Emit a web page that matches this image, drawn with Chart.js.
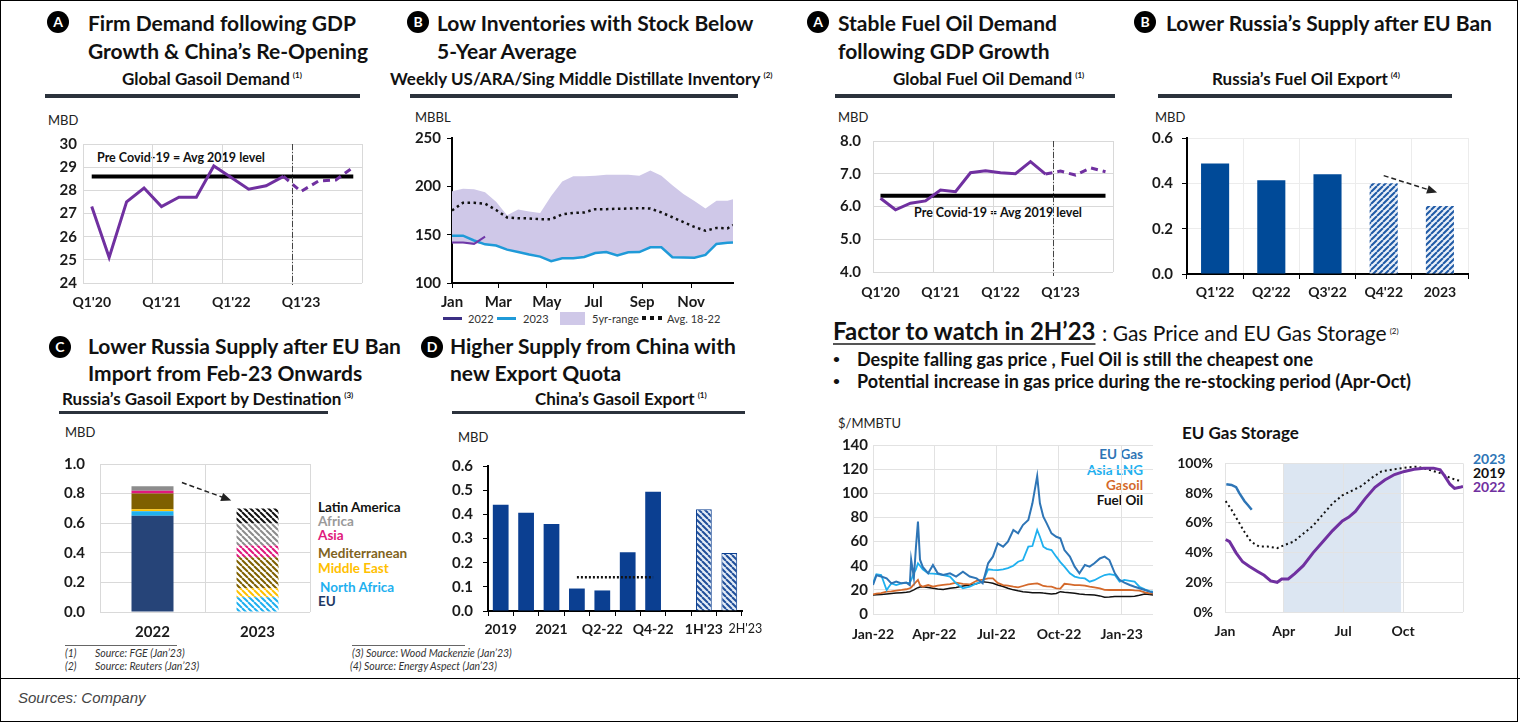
<!DOCTYPE html>
<html>
<head>
<meta charset="utf-8">
<script src="https://cdn.jsdelivr.net/npm/chart.js@4.4.1/dist/chart.umd.min.js"></script>
<style>
body { margin: 0; background: #fff; }
#page { position: relative; width: 1520px; height: 722px; overflow: hidden; font-family: Lato, 'Noto Sans', sans-serif; color: #111; }
.t { position: absolute; white-space: nowrap; line-height: 1; transform: translateY(-50%); }
.c { transform: translate(-50%, -50%); }
.r { transform: translate(-100%, -50%); }
.h1 { font-size: 21px; font-weight: 700; }
.h2 { font-size: 17px; font-weight: 700; }
.sup { font-size: 8px; position: relative; top: -7px; margin-left: 3px; }
.unit { font-size: 13px; color: #222; }
.badge { position: absolute; width: 22px; height: 22px; margin: -11px 0 0 -11px; border-radius: 50%; background: #000; color: #fff; font-weight: 700; font-size: 14px; line-height: 22px; text-align: center; }
.rule { position: absolute; height: 4px; background: #2b323c; }
.note { font-size: 10.5px; font-style: italic; color: #333; }
.lg { font-size: 11px; color: #333; }
.key { font-size: 13.5px; font-weight: 700; }
.pc { font-size: 12.5px; font-weight: 700; }
.bul { font-size: 18px; font-weight: 700; }
.sw { position: absolute; }
canvas { position: absolute; }
</style>
</head>
<body>
<div id="page">
  <div style="position:absolute;left:0;top:0;width:1516px;height:720px;border:1px solid #000;"></div>
  <div style="position:absolute;left:0;top:678px;width:1520px;height:1px;background:#000;"></div>

  <!-- top row headers -->
  <div class="badge" style="left:58px;top:22px">A</div>
  <div class="t h1" style="left:88px;top:22px">Firm Demand following GDP</div>
  <div class="t h1" style="left:88px;top:50px">Growth &amp; China’s Re-Opening</div>
  <div class="t h2" style="left:122px;top:78px">Global Gasoil Demand<span class="sup">(1)</span></div>
  <div class="rule" style="left:45px;top:94px;width:315px"></div>
  <div class="t unit" style="left:48px;top:120px">MBD</div>
  <div class="t pc" style="left:97px;top:158px">Pre Covid-19 = Avg 2019 level</div>

  <div class="badge" style="left:418px;top:22px">B</div>
  <div class="t h1" style="left:437px;top:22px">Low Inventories with Stock Below</div>
  <div class="t h1" style="left:437px;top:50px">5-Year Average</div>
  <div class="t h2" style="left:390px;top:78px">Weekly US/ARA/Sing Middle Distillate Inventory<span class="sup">(2)</span></div>
  <div class="rule" style="left:410px;top:94px;width:328px"></div>
  <div class="t unit" style="left:415px;top:117px">MBBL</div>
  <div class="sw" style="left:443px;top:317px;width:19px;height:3px;background:#3b2f84"></div>
  <div class="t lg" style="left:468px;top:318px">2022</div>
  <div class="sw" style="left:497px;top:317px;width:19px;height:3px;background:#1f9ad8"></div>
  <div class="t lg" style="left:523px;top:318px">2023</div>
  <div class="sw" style="left:560px;top:312px;width:25px;height:13px;background:#cfc8e8"></div>
  <div class="t lg" style="left:592px;top:318px">5yr-range</div>
  <div class="sw" style="left:642px;top:316px;width:20px;height:4px;background:repeating-linear-gradient(90deg,#111 0 4px,transparent 4px 8px)"></div>
  <div class="t lg" style="left:667px;top:318px">Avg. 18-22</div>

  <div class="badge" style="left:818px;top:22px">A</div>
  <div class="t h1" style="left:838px;top:22px">Stable Fuel Oil Demand</div>
  <div class="t h1" style="left:838px;top:50px">following GDP Growth</div>
  <div class="t h2" style="left:893px;top:78px">Global Fuel Oil Demand<span class="sup">(1)</span></div>
  <div class="rule" style="left:835px;top:94px;width:280px"></div>
  <div class="t unit" style="left:838px;top:117px">MBD</div>
  <div class="t pc c" style="left:998px;top:213px">Pre Covid-19 = Avg 2019 level</div>

  <div class="badge" style="left:1145px;top:22px">B</div>
  <div class="t h1" style="left:1166px;top:22px">Lower Russia’s Supply after EU Ban</div>
  <div class="t h2" style="left:1212px;top:78px">Russia’s Fuel Oil Export<span class="sup">(4)</span></div>
  <div class="rule" style="left:1158px;top:94px;width:294px"></div>
  <div class="t unit" style="left:1155px;top:117px">MBD</div>

  <!-- bottom row headers -->
  <div class="badge" style="left:60px;top:347px">C</div>
  <div class="t h1" style="left:88px;top:345px">Lower Russia Supply after EU Ban</div>
  <div class="t h1" style="left:88px;top:372px">Import from Feb-23 Onwards</div>
  <div class="t h2" style="left:62px;top:398px">Russia’s Gasoil Export by Destination<span class="sup">(3)</span></div>
  <div class="rule" style="left:59px;top:411px;width:269px;height:3px"></div>
  <div class="t unit" style="left:65px;top:432px">MBD</div>
  <div class="t key" style="left:318px;top:508px;color:#111">Latin America</div>
  <div class="t key" style="left:318px;top:522px;color:#9a9a9a">Africa</div>
  <div class="t key" style="left:318px;top:536px;color:#e0197d">Asia</div>
  <div class="t key" style="left:318px;top:554px;color:#7f6320">Mediterranean</div>
  <div class="t key" style="left:318px;top:569px;color:#ffc000">Middle East</div>
  <div class="t key" style="left:320px;top:588px;color:#1fb0ef">North Africa</div>
  <div class="t key" style="left:318px;top:602px;color:#1f3864">EU</div>

  <div class="badge" style="left:432px;top:347px">D</div>
  <div class="t h1" style="left:450px;top:345px">Higher Supply from China with</div>
  <div class="t h1" style="left:450px;top:372px">new Export Quota</div>
  <div class="t h2" style="left:535px;top:398px">China’s Gasoil Export<span class="sup">(1)</span></div>
  <div class="rule" style="left:452px;top:411px;width:293px;height:3px"></div>
  <div class="t unit" style="left:458px;top:437px">MBD</div>

  <div class="sw" style="left:65px;top:645px;width:112px;height:1px;background:#666"></div>
  <div class="t note" style="left:65px;top:653px">(1)</div>
  <div class="t note" style="left:95px;top:653px">Source: FGE (Jan’23)</div>
  <div class="t note" style="left:65px;top:666px">(2)</div>
  <div class="t note" style="left:95px;top:666px">Source: Reuters (Jan’23)</div>
  <div class="sw" style="left:352px;top:645px;width:113px;height:1px;background:#666"></div>
  <div class="t note" style="left:352px;top:653px">(3) Source: Wood Mackenzie (Jan’23)</div>
  <div class="t note" style="left:350px;top:666px">(4) Source: Energy Aspect (Jan’23)</div>

  <!-- factor to watch -->
  <div class="t" style="left:833px;top:331px;font-size:24px;font-weight:700;text-decoration:underline;text-decoration-color:#555;text-underline-offset:3px">Factor to watch in 2H’23</div>
  <div class="t" style="left:1102px;top:332px;font-size:21px">: Gas Price and EU Gas Storage<span class="sup">(2)</span></div>
  <div class="t" style="left:833px;top:359px;font-size:12px;font-weight:700">•</div>
  <div class="t bul" style="left:857px;top:359px">Despite falling gas price , Fuel Oil is still the cheapest one</div>
  <div class="t" style="left:833px;top:381px;font-size:12px;font-weight:700">•</div>
  <div class="t bul" style="left:857px;top:381px">Potential increase in gas price during the re-stocking period (Apr-Oct)</div>

  <div class="t unit" style="left:838px;top:423px">$/MMBTU</div>
  <div class="t key r" style="left:1143px;top:455px;color:#2e75b6">EU Gas</div>
  <div class="t key r" style="left:1143px;top:471px;color:#1fb0ef">Asia LNG</div>
  <div class="t key r" style="left:1143px;top:486px;color:#d4692b">Gasoil</div>
  <div class="t key r" style="left:1143px;top:501px;color:#111">Fuel Oil</div>

  <div class="t" style="left:1182px;top:432px;font-size:17px;font-weight:700">EU Gas Storage</div>
  <div class="t key" style="left:1473px;top:459px;color:#2e75b6;font-size:14px">2023</div>
  <div class="t key" style="left:1473px;top:473px;color:#111;font-size:14px">2019</div>
  <div class="t key" style="left:1473px;top:487px;color:#7030a0;font-size:14px">2022</div>

  <div class="t" style="left:18px;top:697px;font-family:'Liberation Sans',sans-serif;font-style:italic;font-size:15px;color:#444">Sources: Company</div>
</div>

<script>
// Global demand, quarterly (MBD)
const quarters = ["Q1'20", "Q2'20", "Q3'20", "Q4'20", "Q1'21", "Q2'21", "Q3'21", "Q4'21",
                  "Q1'22", "Q2'22", "Q3'22", "Q4'22", "Q1'23", "Q2'23", "Q3'23", "Q4'23"];
const gasoilDemand = [27.3, 25.1, 27.5, 28.1, 27.3, 27.7, 27.7, 29.05, 28.55, 28.05, 28.2, 28.6, 27.95, 28.4, 28.45, 29.0];
const gasoilPreCovid = 28.6;
const fuelOilDemand = [6.25, 5.9, 6.1, 6.17, 6.5, 6.45, 7.03, 7.09, 7.03, 7.0, 7.37, 6.99, 7.08, 6.96, 7.18, 7.06];
const fuelOilPreCovid = 6.33;
const lastActual = 11; // Q4'22, forecast after this

// Weekly middle distillate inventory (MBBL), x = week of year
const invWeeks = [0, 2, 4, 6, 8, 10, 12, 14, 16, 18, 20, 22, 24, 26, 28, 30, 32, 34, 36, 38, 40, 42, 44, 46, 48, 50, 51];
const invRangeHigh = [195, 197.6, 197, 194, 184, 170, 176, 174, 172.5, 190, 205, 210.5, 210.5, 211, 212, 212, 212, 211, 216.5, 211, 201, 192, 184.7, 177, 185, 185, 186.6];
const invRangeLow = [141, 141, 141, 140, 138.7, 134.5, 132, 129.5, 127.3, 122.5, 125.5, 125.7, 127, 131, 132, 128.5, 131.8, 132, 137, 137, 126.7, 126.5, 126.2, 129, 140.4, 141.6, 142];
const inv2023 = [149, 149, 144, 140, 138.7, 134.5, 132, 129.5, 127.3, 122.5, 125.5, 125.7, 127, 131, 132, 128.5, 131.8, 132, 137, 137, 126.7, 126.5, 126.2, 129, 140.4, 141.6, 142];
const inv2022 = [142, 142, 140.5, 148, null, null, null, null, null, null, null, null, null, null, null, null, null, null, null, null, null, null, null, null, null, null, null];
const invAvg = [175, 183, 183, 182, 175.5, 167.8, 167, 166.8, 166, 166, 171, 172.5, 173, 176.4, 176.4, 176.8, 177, 177.4, 177, 173, 168, 163, 158, 154, 157, 156.5, 160];
const invMonthWeeks = [0, 8.4, 17.2, 25.7, 34.5, 43.4];
const invMonthLabels = ['Jan', 'Mar', 'May', 'Jul', 'Sep', 'Nov'];

// Russia fuel oil export (MBD)
const rusFoLabels = ["Q1'22", "Q2'22", "Q3'22", "Q4'22", '2023'];
const rusFoExport = [0.487, 0.414, 0.44, 0.40, 0.30];
const rusFoEstimate = [false, false, false, true, true];

// Russia gasoil export by destination (MBD)
const rusGoYears = ['2022', '2023'];
const rusGoEU = [0.65, 0];
const rusGoNorthAfrica = [0.03, 0.10];
const rusGoMiddleEast = [0.015, 0.06];
const rusGoMediterranean = [0.105, 0.21];
const rusGoAsia = [0.02, 0.08];
const rusGoAfrica = [0.03, 0.15];
const rusGoLatinAmerica = [0, 0.10];

// China gasoil export (MBD)
const chinaPeriods = ['2019', '2020', '2021', 'Q1-22', 'Q2-22', 'Q3-22', 'Q4-22', '', "1H'23", "2H'23"];
const chinaTickText = ['2019', '', '2021', '', 'Q2-22', '', 'Q4-22', '', "1H'23", "          2H'23"];
const chinaExport = [0.44, 0.407, 0.36, 0.093, 0.085, 0.243, 0.493, null, 0.421, 0.24];
const chinaQuotaAvg = [null, null, null, 0.14, 0.14, 0.14, 0.14, null, null, null];

// Energy prices ($/MMBTU), x = days since 1 Jan 2022
const gasDays = [0, 5, 12, 20, 27, 34, 42, 49, 54, 56, 60, 63, 66, 69, 73,
  81, 88, 95, 103, 113, 122, 132, 142, 152, 161,
  169, 176, 183, 191, 198, 206, 213, 220, 228, 234,
  241, 245, 250, 255, 262, 269, 275, 281, 289, 296,
  303, 311, 318, 325, 333, 340, 347, 355, 362, 369,
  377, 384, 391, 399, 406, 411];
const euGas = [24, 32, 31, 29.5, 25.4, 26.8, 25.4, 26, 24, 45, 30, 55, 76.5, 45, 39,
  33.7, 40.6, 33.7, 32.3, 33.7, 31, 35, 31, 29.5, 25.4,
  42, 47.5, 58.5, 55.8, 60, 69.6, 66.8, 73.7, 77.9, 91.7,
  114.3, 91.7, 80.6, 75.1, 66.8, 64, 62.7, 53, 47.5, 39.2,
  33.7, 40.6, 39.2, 42, 46, 47.5, 44.7, 33.7, 28.2, 26,
  24, 22.6, 21.3, 19.9, 18.5, 17.7];
const asiaLng = [25.4, 33, 32.3, 19.9, 25.4, 24, 25.4, 25.7, 26, 28, 34, 37, 42, 40, 37,
  33.7, 33.5, 33, 32.3, 31, 25.4, 21.3, 22.6, 25.4, 26.8,
  37, 36.5, 36.4, 37, 38, 40, 43.3, 44.7, 55.8, 56.3,
  69.6, 64, 55.8, 54, 53, 47.5, 43, 39.2, 33.7, 31,
  30, 29.5, 26.8, 28, 30.5, 32.3, 33, 32.3, 26.8, 28.2,
  27.5, 26.8, 22.6, 20.5, 19, 18.5];
const gasoilPrice = [16.3, 16.8, 17.3, 18.5, 18.8, 19.4, 19.9, 20.5, 21.3, 22, 24.5, 26.5, 28.2, 24, 22.6,
  24, 22.6, 23.5, 24.2, 24.8, 26, 25, 24.5, 27.5, 28.5,
  29.5, 29.5, 25.8, 24, 23.5, 22.6, 22, 23.2, 24.5, 25,
  25.4, 24.5, 23.2, 22.8, 22.6, 21.3, 21, 25, 24.5, 24,
  24, 23.5, 22.6, 22, 21.3, 20, 19.9, 20, 19.9, 19.9,
  19.9, 19.5, 19.3, 18, 17.1, 17.1];
const fuelOilPrice = [15.7, 15.9, 16.2, 16.6, 17, 17.3, 17.7, 18, 18.5, 19, 20, 21, 21.8, 22.3, 22.6,
  22, 21.3, 20.8, 20.4, 21.3, 22, 23.2, 24, 25, 26.8,
  26.2, 25.4, 24, 22.8, 21.3, 20, 19.2, 18.5, 18, 17.7,
  17.7, 17.7, 17.3, 17, 16.6, 17, 18.5, 18, 17.7, 17.2,
  16.6, 16.2, 16, 15.7, 15, 13.8, 14, 14.4, 14.4, 14.4,
  14.4, 14.8, 15.5, 16.6, 16.2, 15.7];
const gasTickDays = [0, 90, 181, 273, 365];
const gasTickLabels = ['Jan-22', 'Apr-22', 'Jul-22', 'Oct-22', 'Jan-23'];

// EU gas storage (% full), x = day of year
const stor2023Days = [2, 10, 17, 22, 30, 35, 41];
const stor2023 = [86, 85.5, 84, 80, 74.5, 72, 68.8];
const stor2019Days = [1, 10, 20, 30, 40, 52, 65, 80, 92, 105, 120, 135, 150, 165, 180, 195, 210, 225, 240, 260, 280, 295, 310, 330, 345, 355, 362];
const stor2019 = [74.6, 68.8, 61.3, 53.8, 47.3, 44.1, 44.1, 43, 45.2, 47.3, 52.7, 58, 65.6, 73.1, 78.5, 81.7, 85, 90.3, 94.6, 96.1, 97.4, 97.8, 96.1, 93.5, 90.3, 88.8, 88.2];
const stor2022Days = [1, 7, 17, 27, 37, 50, 60, 70, 80, 87, 97, 107, 120, 135, 150, 165, 180, 190, 200, 215, 230, 245, 260, 275, 290, 305, 320, 330, 337, 345, 352, 360, 365];
const stor2022 = [48.8, 47.3, 39.8, 33.8, 30.8, 27.3, 24.7, 20.9, 20, 22.2, 22.2, 25.8, 31.2, 39.8, 47.3, 54.8, 61.3, 63.9, 67.7, 76.3, 83.9, 88.8, 92.5, 94.6, 96.1, 96.8, 96.8, 95.7, 91.4, 86, 83.2, 83.9, 84.5];
const storTickDays = [0, 90, 181, 273, 365];
const storTickLabels = ['Jan', 'Apr', 'Jul', 'Oct', ''];
const storRestock = [90, 270];

Chart.defaults.font.family = "Lato, 'Noto Sans', sans-serif";
Chart.defaults.color = '#1a1a1a';
Chart.defaults.animation = false;
Chart.defaults.plugins.legend.display = false;
Chart.defaults.plugins.tooltip.enabled = false;
Chart.defaults.elements.point.radius = 0;
Chart.defaults.elements.line.tension = 0;

const GRID = '#d9d9d9';
const PURPLE = '#7030a0';
const bold = size => ({ size: size, weight: 'bold' });
const pts = (xs, ys) => xs.map((x, i) => ({ x: x, y: ys[i] }));

function hatch(color, back, dir) {
    const tile = document.createElement('canvas');
    tile.width = tile.height = 6;
    const g = tile.getContext('2d');
    g.fillStyle = back;
    g.fillRect(0, 0, 6, 6);
    g.strokeStyle = color;
    g.lineWidth = 2;
    g.beginPath();
    for (let k = -6; k <= 6; k += 6) {
        if (dir > 0) { g.moveTo(k, 6); g.lineTo(k + 6, 0); }
        else { g.moveTo(k, 0); g.lineTo(k + 6, 6); }
    }
    g.stroke();
    return g.createPattern(tile, 'repeat');
}

// puts a canvas so that the plot area lands on the given page box
function draw(plot, frame, config) {
    const [yw, xh, pt, pr] = frame;
    const cv = document.createElement('canvas');
    const w = plot.r - plot.l + yw + pr, h = plot.b - plot.t + pt + xh;
    cv.width = w; cv.height = h;
    cv.style.cssText = `left:${plot.l - yw}px;top:${plot.t - pt}px;width:${w}px;height:${h}px`;
    document.getElementById('page').appendChild(cv);
    config.options.responsive = false;
    config.options.layout = { padding: { top: pt, right: pr, left: 0, bottom: 0 } };
    config.options.scales.x.afterFit = s => { s.height = xh; };
    config.options.scales.y.afterFit = s => { s.width = yw; };
    return new Chart(cv, config);
}

function divider(after) {
    return {
        id: 'divider',
        afterDatasetsDraw(chart) {
            const xs = chart.scales.x, a = chart.chartArea, ctx = chart.ctx;
            const px = Math.round((xs.getPixelForValue(after) + xs.getPixelForValue(after + 1)) / 2) + 0.5;
            ctx.save();
            ctx.strokeStyle = '#444';
            ctx.lineWidth = 1;
            ctx.setLineDash([6, 2, 1, 2]);
            ctx.beginPath();
            ctx.moveTo(px, a.top);
            ctx.lineTo(px, a.bottom + 4);
            ctx.stroke();
            ctx.restore();
        }
    };
}

function arrow(x0, y0, x1, y1) {
    return {
        id: 'arrow',
        afterDatasetsDraw(chart) {
            const xs = chart.scales.x, ys = chart.scales.y, ctx = chart.ctx;
            const ax = xs.getPixelForValue(x0), ay = ys.getPixelForValue(y0);
            const bx = xs.getPixelForValue(x1), by = ys.getPixelForValue(y1);
            const ang = Math.atan2(by - ay, bx - ax);
            ctx.save();
            ctx.strokeStyle = '#222';
            ctx.fillStyle = '#222';
            ctx.lineWidth = 1.5;
            ctx.setLineDash([5, 3]);
            ctx.beginPath();
            ctx.moveTo(ax, ay);
            ctx.lineTo(bx - 8 * Math.cos(ang), by - 8 * Math.sin(ang));
            ctx.stroke();
            ctx.setLineDash([]);
            ctx.beginPath();
            ctx.moveTo(bx, by);
            ctx.lineTo(bx - 11 * Math.cos(ang - 0.4), by - 11 * Math.sin(ang - 0.4));
            ctx.lineTo(bx - 11 * Math.cos(ang + 0.4), by - 11 * Math.sin(ang + 0.4));
            ctx.closePath();
            ctx.fill();
            ctx.restore();
        }
    };
}

function shade(range, color) {
    return {
        id: 'shade',
        beforeDraw(chart) {
            const xs = chart.scales.x, a = chart.chartArea, ctx = chart.ctx;
            const x0 = xs.getPixelForValue(range[0]), x1 = xs.getPixelForValue(range[1]);
            ctx.save();
            ctx.fillStyle = color;
            ctx.fillRect(x0, a.top, x1 - x0, a.bottom - a.top);
            ctx.restore();
        }
    };
}

function demandChart(plot, values, preCovid, yMin, yMax, decimals, yPad, xPad) {
    return draw(plot, [50, 30, 14, 6], {
        type: 'line',
        data: {
            labels: quarters,
            datasets: [{
                data: values,
                borderColor: PURPLE,
                borderWidth: 3,
                segment: { borderDash: c => c.p0DataIndex >= lastActual ? [7, 5] : undefined }
            }, {
                data: quarters.map(() => preCovid),
                borderColor: '#000',
                borderWidth: 4
            }]
        },
        options: {
            scales: {
                x: {
                    offset: true,
                    grid: { offset: true, drawTicks: false, color: c => (c.index === undefined || c.index % 4 === 0) ? GRID : 'rgba(0,0,0,0)' },
                    border: { display: false },
                    ticks: { autoSkip: false, maxRotation: 0, padding: xPad, font: bold(14), callback: (v, i) => i % 4 === 0 ? quarters[i] : '' }
                },
                y: {
                    min: yMin, max: yMax,
                    grid: { color: GRID, drawTicks: false },
                    border: { display: false },
                    ticks: { stepSize: 1, padding: yPad, font: bold(15), callback: v => v.toFixed(decimals) }
                }
            }
        },
        plugins: [divider(lastActual)]
    });
}

// A - global gasoil demand
demandChart({ l: 83, t: 143, r: 362, b: 283 }, gasoilDemand, gasoilPreCovid, 24, 30, 0, 6, 11);

// A - global fuel oil demand
demandChart({ l: 873, t: 134, r: 1113, b: 272 }, fuelOilDemand, fuelOilPreCovid, 4, 8, 1, 12, 12);

// B - inventories
draw({ l: 452, t: 137, r: 733, b: 283 }, [50, 30, 14, 8], {
    type: 'line',
    data: {
        datasets: [
            { data: pts(invWeeks, inv2022), borderColor: '#6f38a8', borderWidth: 2, order: 1 },
            { data: pts(invWeeks, inv2023), borderColor: '#1f9ad8', borderWidth: 2.5, order: 2 },
            { data: pts(invWeeks, invAvg), borderColor: '#111', borderWidth: 2.5, borderDash: [2.5, 3.5], order: 3 },
            { data: pts(invWeeks, invRangeHigh), borderWidth: 0, borderColor: 'rgba(0,0,0,0)', backgroundColor: '#cfc8e8', fill: '+1', order: 4 },
            { data: pts(invWeeks, invRangeLow), borderWidth: 0, borderColor: 'rgba(0,0,0,0)', order: 5 }
        ]
    },
    options: {
        scales: {
            x: {
                type: 'linear', min: 0, max: 51,
                afterBuildTicks: s => { s.ticks = invMonthWeeks.map(v => ({ value: v })); },
                grid: { drawOnChartArea: false, color: '#000', tickLength: 5 },
                border: { color: '#000', width: 2 },
                ticks: { autoSkip: false, maxRotation: 0, padding: 5, font: bold(15), callback: (v, i) => invMonthLabels[i] }
            },
            y: {
                min: 100, max: 250,
                grid: { drawOnChartArea: false, color: '#000', tickLength: 5 },
                border: { color: '#000', width: 2 },
                ticks: { stepSize: 50, padding: 6, font: bold(15) }
            }
        }
    }
});

// B - Russia fuel oil export
draw({ l: 1187, t: 134, r: 1468, b: 274 }, [50, 30, 14, 8], {
    type: 'bar',
    data: {
        labels: rusFoLabels,
        datasets: [{
            data: rusFoExport,
            backgroundColor: rusFoEstimate.map(e => e ? hatch('#1f5aa6', '#e9eff8', 1) : '#004a98'),
            barPercentage: 0.5,
            categoryPercentage: 1
        }]
    },
    options: {
        scales: {
            x: {
                grid: { offset: true, color: '#ececec', tickColor: '#000', tickLength: 5 },
                border: { color: '#000', width: 2 },
                ticks: { padding: 5, font: bold(14) }
            },
            y: {
                min: 0, max: 0.6,
                grid: { color: '#ececec', tickColor: '#000', tickLength: 5 },
                border: { color: '#000', width: 2 },
                ticks: { stepSize: 0.2, padding: 9, font: bold(15), callback: v => v.toFixed(1) }
            }
        }
    },
    plugins: [arrow(3, 0.434, 3.95, 0.36)]
});

// C - Russia gasoil export by destination
const rusGoSeries = [rusGoEU, rusGoNorthAfrica, rusGoMiddleEast, rusGoMediterranean, rusGoAsia, rusGoAfrica, rusGoLatinAmerica];
const rusGoColors = ['#264478', '#1fb0ef', '#ffc000', '#7f6000', '#e0197d', '#8c8c8c', '#111111'];
draw({ l: 100, t: 454, r: 310, b: 612 }, [50, 30, 14, 6], {
    type: 'bar',
    data: {
        labels: rusGoYears,
        datasets: rusGoSeries.map((d, i) => ({
            data: d,
            backgroundColor: [rusGoColors[i], hatch(rusGoColors[i], '#ffffff', -1)],
            barPercentage: 0.4,
            categoryPercentage: 1
        }))
    },
    options: {
        scales: {
            x: {
                stacked: true,
                grid: { offset: true, color: GRID, drawTicks: false },
                border: { display: false },
                ticks: { padding: 11, font: bold(15) }
            },
            y: {
                stacked: true, min: 0, max: 1,
                grid: { color: GRID, drawTicks: false },
                border: { display: false },
                ticks: { stepSize: 0.2, padding: 15, font: bold(15), callback: v => v.toFixed(1) }
            }
        }
    },
    plugins: [arrow(0.28, 0.875, 0.75, 0.754)]
});

// D - China gasoil export
draw({ l: 488, t: 461, r: 742, b: 611 }, [50, 28, 14, 34], {
    type: 'bar',
    data: {
        labels: chinaPeriods,
        datasets: [{
            type: 'line',
            data: chinaQuotaAvg,
            borderColor: '#111',
            borderWidth: 2.5,
            borderDash: [2, 2],
            order: 0
        }, {
            data: chinaExport,
            backgroundColor: chinaExport.map((v, i) => i >= 8 ? hatch('#1f4e9a', '#e4ecf6', -1) : '#0b3f91'),
            borderColor: '#0b3f91',
            borderWidth: chinaExport.map((v, i) => i >= 8 ? 1 : 0),
            barPercentage: 0.62,
            categoryPercentage: 1,
            order: 1
        }]
    },
    options: {
        scales: {
            x: {
                grid: { offset: true, drawOnChartArea: false, color: '#000', tickLength: 5 },
                border: { color: '#000', width: 2 },
                ticks: {
                    autoSkip: false, maxRotation: 0, padding: 5,
                    font: c => c.index === 9 ? { size: 12.5, weight: 'normal' } : bold(14),
                    callback: (v, i) => chinaTickText[i]
                }
            },
            y: {
                min: 0, max: 0.6,
                grid: { drawOnChartArea: false, color: '#000', tickLength: 5 },
                border: { color: '#000', width: 2 },
                ticks: { stepSize: 0.1, padding: 10, font: bold(15), callback: v => v.toFixed(1) }
            }
        }
    }
});

// Gas / oil prices
draw({ l: 873, t: 445, r: 1153, b: 614 }, [50, 30, 14, 8], {
    type: 'line',
    data: {
        datasets: [
            { data: pts(gasDays, euGas), borderColor: '#2e75b6', borderWidth: 2 },
            { data: pts(gasDays, asiaLng), borderColor: '#1fb0ef', borderWidth: 1.8 },
            { data: pts(gasDays, gasoilPrice), borderColor: '#d4692b', borderWidth: 1.8 },
            { data: pts(gasDays, fuelOilPrice), borderColor: '#111', borderWidth: 1.5 }
        ]
    },
    options: {
        scales: {
            x: {
                type: 'linear', min: 0, max: 411,
                afterBuildTicks: s => { s.ticks = gasTickDays.map(v => ({ value: v })); },
                grid: { color: '#e2e2e2', drawTicks: false },
                border: { display: false },
                ticks: { autoSkip: false, maxRotation: 0, padding: 12, font: bold(14), callback: (v, i) => gasTickLabels[i] }
            },
            y: {
                min: 0, max: 140,
                grid: { color: '#e2e2e2', drawTicks: false },
                border: { display: false },
                ticks: { stepSize: 20, padding: 5, font: bold(15) }
            }
        }
    }
});

// EU gas storage
draw({ l: 1225, t: 457, r: 1468, b: 612 }, [55, 30, 14, 6], {
    type: 'line',
    data: {
        datasets: [
            { data: pts(stor2023Days, stor2023), borderColor: '#2e75b6', borderWidth: 2.5 },
            { data: pts(stor2022Days, stor2022), borderColor: PURPLE, borderWidth: 3 },
            { data: pts(stor2019Days, stor2019), borderColor: '#111', borderWidth: 2, borderDash: [2, 3] }
        ]
    },
    options: {
        scales: {
            x: {
                type: 'linear', min: 0, max: 365,
                afterBuildTicks: s => { s.ticks = storTickDays.map(v => ({ value: v })); },
                grid: { color: '#e3e3e3', drawTicks: false },
                border: { display: false },
                ticks: { autoSkip: false, maxRotation: 0, padding: 11, font: bold(14), callback: (v, i) => storTickLabels[i] }
            },
            y: {
                min: 0, max: 100,
                grid: { color: '#e3e3e3', drawTicks: false },
                border: { display: false },
                ticks: { stepSize: 20, padding: 12, font: bold(14), callback: v => v + '%' }
            }
        }
    },
    plugins: [shade(storRestock, '#dce6f2')]
});
</script>
</body>
</html>
